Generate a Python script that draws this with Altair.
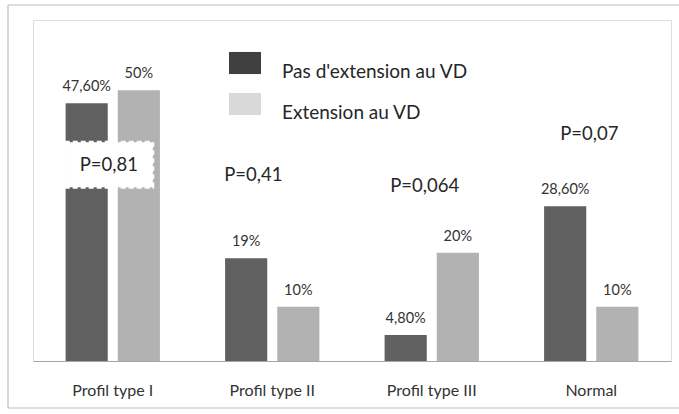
import altair as alt
import pandas as pd

categories = ["Profil type I", "Profil type II", "Profil type III", "Normal"]
groups = ["Pas d'extension au VD", "Extension au VD"]
no_ext = [47.6, 19, 4.8, 28.6]
ext = [50, 10, 20, 10]
no_ext_labels = ["47,60%", "19%", "4,80%", "28,60%"]
ext_labels = ["50%", "10%", "20%", "10%"]
p_labels = ["P=0,81", "P=0,41", "P=0,064", "P=0,07"]
p_levels = [36.3, 34.3, 32.3, 41.9]
p_box = [32.1, 40.4]  # y-extent of the white box behind P=0,81

rows = []
for c, a, b, la, lb in zip(categories, no_ext, ext, no_ext_labels, ext_labels):
    rows.append({"cat": c, "grp": groups[0], "value": a, "label": la})
    rows.append({"cat": c, "grp": groups[1], "value": b, "label": lb})
df = pd.DataFrame(rows)
pdf = pd.DataFrame({"cat": categories, "p": p_labels, "lvl": p_levels})
box_df = pd.DataFrame({"cat": [categories[0]], "y0": [p_box[0]], "y1": [p_box[1]]})

FONT = "Lato"

x_enc = alt.X("cat:N", sort=categories,
              scale=alt.Scale(domain=categories, paddingInner=0, paddingOuter=0),
              axis=alt.Axis(title=None, labelAngle=0, ticks=False, domainColor="#a6a6a6",
                            domainWidth=1.2, labelPadding=21, labelFontSize=16,
                            labelColor="#333333", labelFont=FONT, grid=False))
xo_enc = alt.XOffset("grp:N", sort=groups,
                     scale=alt.Scale(domain=groups, paddingInner=0.192, paddingOuter=0.625))
y_scale = alt.Scale(domain=[0, 63], nice=False)

bars = alt.Chart(df).mark_bar().encode(
    x=x_enc, xOffset=xo_enc,
    y=alt.Y("value:Q", scale=y_scale, axis=None),
    color=alt.Color("grp:N", scale=alt.Scale(domain=groups, range=["#606060", "#b2b2b2"]), legend=None),
)

legend_layer = alt.Chart(df).mark_point(filled=True, opacity=0).encode(
    x=x_enc, xOffset=xo_enc,
    y=alt.Y("value:Q", scale=y_scale, axis=None),
    fill=alt.Fill("grp:N", scale=alt.Scale(domain=groups, range=["#404040", "#d9d9d9"]),
                  legend=alt.Legend(title=None, orient="none", legendX=196, legendY=27,
                                    symbolType="M-1,-0.69H1V0.69H-1Z", symbolSize=1024,
                                    symbolOpacity=1, symbolStrokeWidth=0, rowPadding=6,
                                    labelOffset=21, labelFontSize=19, labelFont=FONT,
                                    labelColor="#262626", labelBaseline="top", padding=0,
                                    labelLimit=300)),
)

labels = alt.Chart(df).mark_text(baseline="bottom", dy=-9, fontSize=14.5, font=FONT, color="#333333").encode(
    x=x_enc, xOffset=xo_enc,
    y=alt.Y("value:Q", scale=y_scale, axis=None),
    text="label:N",
)

box = alt.Chart(box_df).mark_rect(width=88, xOffset=-4, fill="white", stroke="#fdfdfd",
                                  strokeWidth=3, strokeDash=[5, 3]).encode(
    x=x_enc,
    y=alt.Y("y0:Q", scale=y_scale, axis=None),
    y2="y1:Q",
)

p_dx = [-4, -19, -7, -2]
p_layers = []
for c, d in zip(categories, p_dx):
    p_layers.append(
        alt.Chart(pdf).transform_filter(alt.datum.cat == c).mark_text(
            fontSize=18.5, font=FONT, color="#262626", dx=d, baseline="middle").encode(
            x=x_enc,
            y=alt.Y("lvl:Q", scale=y_scale, axis=None),
            text="p:N",
        )
    )

FRAME = "#bdbdbd"
frame_top = alt.Chart(box_df).mark_rule(color=FRAME, strokeWidth=1.2).encode(
    x=alt.value(-25), x2=alt.value(646), y=alt.value(-15))
frame_bottom = alt.Chart(box_df).mark_rule(color=FRAME, strokeWidth=1.2).encode(
    x=alt.value(-25), x2=alt.value(646), y=alt.value(388))
frame_left = alt.Chart(box_df).mark_rule(color=FRAME, strokeWidth=1.2).encode(
    x=alt.value(-25), y=alt.value(-15), y2=alt.value(388))

chart = alt.layer(frame_top, frame_bottom, frame_left, bars, legend_layer, labels, box, *p_layers).resolve_scale(
    color="independent", fill="independent"
).properties(
    width=638, height=341,
    autosize=alt.AutoSizeParams(type="none"),
    padding={"left": 33, "top": 20, "right": 8, "bottom": 48},
).configure_view(stroke=None).configure(background="white")

chart.save("out.html", embed_options={"renderer": "svg", "actions": False})
